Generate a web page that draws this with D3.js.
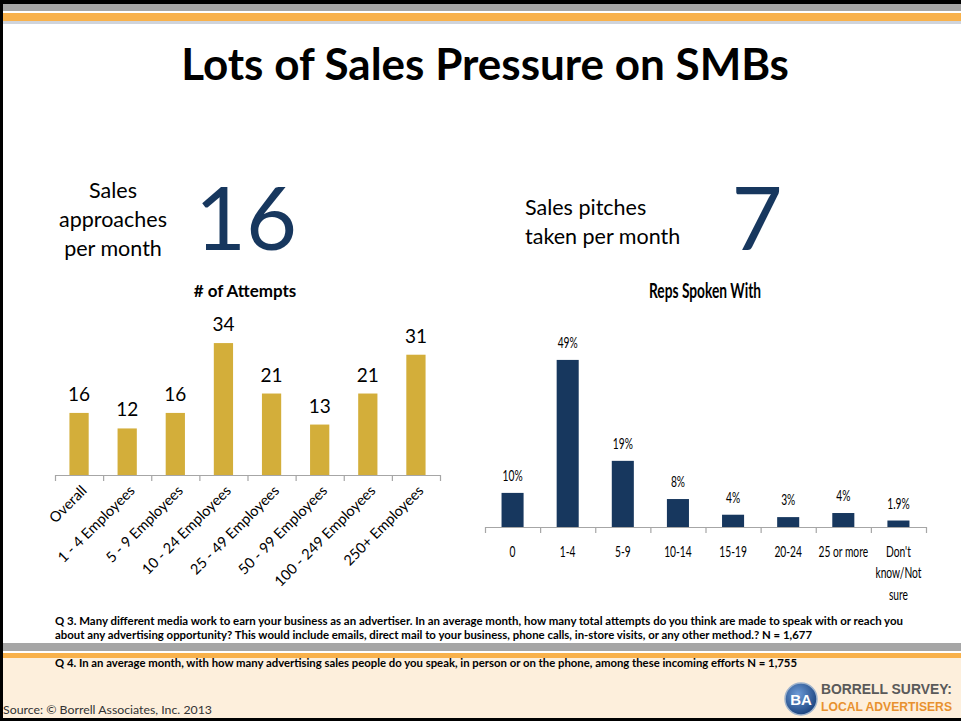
<!DOCTYPE html>
<html><head><meta charset="utf-8">
<script src="https://cdn.jsdelivr.net/npm/d3@7"></script>
<style>
html,body{margin:0;padding:0;background:#fff;}
svg{display:block;}
</style></head>
<body>
<script>
// ---------- DATA ----------
const attemptCategories = ["Overall","1 - 4 Employees","5 - 9 Employees","10 - 24 Employees","25 - 49 Employees","50 - 99 Employees","100 - 249 Employees","250+ Employees"];
const attemptValues = [16, 12, 16, 34, 21, 13, 21, 31];

const repsCategories = ["0","1-4","5-9","10-14","15-19","20-24","25 or more","Don't know/Not sure"];
const repsValues = [10, 49, 19.4, 8.2, 3.6, 2.9, 4.1, 1.9];
const repsLabels = ["10%","49%","19%","8%","4%","3%","4%","1.9%"];

const mainTitle = "Lots of Sales Pressure on SMBs";
const leftIntro = ["Sales","approaches","per month"];
const leftBig = "16";
const rightIntro = ["Sales pitches","taken per month"];
const rightBig = "7";
const leftChartTitle = "# of Attempts";
const rightChartTitle = "Reps Spoken With";
const footQ3 = ["Q 3. Many different media work to earn your business as an advertiser.  In an average month, how many total attempts do you think are made to speak with or reach you",
"about any advertising opportunity?  This would include emails, direct mail to your business, phone calls, in-store visits, or any other method.? N = 1,677"];
const footQ4 = "Q 4. In an average month, with how many advertising sales people do you speak, in person or on the phone, among these incoming efforts  N = 1,755";
const sourceText = "Source: \u00A9 Borrell Associates, Inc. 2013";

// ---------- DRAW ----------
const W = 961, H = 721;
const svg = d3.select("body").append("svg").attr("width", W).attr("height", H);
const font = "Lato, 'Open Sans', sans-serif";
const gold = "#d3ae3a", navy = "#17375e";
const squeeze = 0.66;

svg.append("rect").attr("width", W).attr("height", H).attr("fill", "#fff");

// top decoration
svg.append("rect").attr("x",0).attr("y",4).attr("width",W).attr("height",7).attr("fill","#a6a6a6");
svg.append("rect").attr("x",0).attr("y",13).attr("width",W).attr("height",8).attr("fill","#f8b14b");
svg.append("rect").attr("x",0).attr("y",21).attr("width",W).attr("height",3).attr("fill","#cfd4dc");

// footer decoration
svg.append("rect").attr("x",0).attr("y",643).attr("width",W).attr("height",8).attr("fill","#a6a6a6");
svg.append("rect").attr("x",0).attr("y",653).attr("width",W).attr("height",5).attr("fill","#f8b14b");
svg.append("rect").attr("x",0).attr("y",658).attr("width",W).attr("height",60).attr("fill","#fdefdc");

// borders
svg.append("rect").attr("x",0).attr("y",0).attr("width",W).attr("height",4).attr("fill","#000");
svg.append("rect").attr("x",0).attr("y",0).attr("width",3).attr("height",H).attr("fill","#000");
svg.append("rect").attr("x",0).attr("y",718).attr("width",W).attr("height",3).attr("fill","#000");

// title
svg.append("text").attr("x",485).attr("y",80).attr("text-anchor","middle")
  .attr("font-family",font).attr("font-weight","bold").attr("font-size",44).attr("fill","#000")
  .text(mainTitle);

// intro texts
svg.append("g").selectAll("text").data(leftIntro).join("text")
  .attr("x",113).attr("y",(d,i)=>198+i*29).attr("text-anchor","middle")
  .attr("font-family",font).attr("font-size",21.5).attr("fill","#000").text(d=>d);
svg.append("text").attr("x",246).attr("y",250).attr("text-anchor","middle")
  .attr("font-family",font).attr("font-size",88).attr("fill",navy).text(leftBig);
svg.append("g").selectAll("text").data(rightIntro).join("text")
  .attr("x",525).attr("y",(d,i)=>215+i*29)
  .attr("font-family",font).attr("font-size",21.5).attr("fill","#000").text(d=>d);
svg.append("text").attr("x",757).attr("y",250).attr("text-anchor","middle")
  .attr("font-family",font).attr("font-size",88).attr("fill",navy).text(rightBig);

// ---------- LEFT CHART ----------
const x1 = d3.scaleBand().domain(attemptCategories).range([55,440]).paddingInner(0.6).paddingOuter(0.3);
const y1 = d3.scaleLinear().domain([0,35]).range([475, 475-35*3.88]);
const g1 = svg.append("g");
g1.append("text").attr("x",245).attr("y",297).attr("text-anchor","middle")
  .attr("font-family",font).attr("font-weight","bold").attr("font-size",17).text(leftChartTitle);
g1.selectAll("rect.bar").data(attemptValues).join("rect").attr("class","bar")
  .attr("x",(d,i)=>x1(attemptCategories[i])).attr("width",x1.bandwidth())
  .attr("y",d=>y1(d)).attr("height",d=>y1(0)-y1(d)).attr("fill",gold);
g1.selectAll("text.val").data(attemptValues).join("text").attr("class","val")
  .attr("x",(d,i)=>x1(attemptCategories[i])+x1.bandwidth()/2).attr("y",d=>y1(d)-12)
  .attr("text-anchor","middle").attr("font-family",font).attr("font-size",19).attr("fill","#000")
  .text(d=>d);
// axis
const ax1 = d3.axisBottom(d3.scaleLinear().domain([0,attemptCategories.length]).range([55,440]))
  .ticks(attemptCategories.length).tickSize(6).tickFormat("");
const axg1 = g1.append("g").attr("transform",`translate(0,${y1(0)})`).call(ax1);
axg1.selectAll("path,line").attr("stroke","#a6a6a6").attr("stroke-width",1.2);
axg1.select(".domain").attr("d","M55,0.5H440");
g1.selectAll("text.cat").data(attemptCategories).join("text").attr("class","cat")
  .attr("transform",d=>`translate(${x1(d)+x1.bandwidth()/2+5},${y1(0)+13}) rotate(-45)`)
  .attr("text-anchor","end").attr("dy","0.35em")
  .attr("font-family",font).attr("font-size",14.5).attr("fill","#000").text(d=>d);

// ---------- RIGHT CHART ----------
const x2 = d3.scaleBand().domain(repsCategories).range([485,926]).paddingInner(0.6).paddingOuter(0.3);
const y2 = d3.scaleLinear().domain([0,50]).range([527, 527-50*3.41]);
const g2 = svg.append("g");
g2.append("text").attr("x",649).attr("y",298)
  .attr("font-family",font).attr("font-weight","bold").attr("font-size",20)
  .attr("textLength",112).attr("lengthAdjust","spacingAndGlyphs").text(rightChartTitle);
g2.selectAll("rect.bar").data(repsValues).join("rect").attr("class","bar")
  .attr("x",(d,i)=>x2(repsCategories[i])).attr("width",x2.bandwidth())
  .attr("y",d=>y2(d)).attr("height",d=>y2(0)-y2(d)).attr("fill",navy);
g2.selectAll("text.val").data(repsValues).join("text").attr("class","val")
  .attr("transform",(d,i)=>`translate(${x2(repsCategories[i])+x2.bandwidth()/2},${y2(d)-12}) scale(${squeeze},1)`)
  .attr("text-anchor","middle").attr("font-family",font).attr("font-size",15.5).attr("fill","#000")
  .text((d,i)=>repsLabels[i]);
const ax2 = d3.axisBottom(d3.scaleLinear().domain([0,repsCategories.length]).range([485,926]))
  .ticks(repsCategories.length).tickSize(6).tickFormat("");
const axg2 = g2.append("g").attr("transform",`translate(0,${y2(0)})`).call(ax2);
axg2.selectAll("path,line").attr("stroke","#a6a6a6").attr("stroke-width",1.2);
axg2.select(".domain").attr("d","M485,0.5H926");
const wrapLines = d => d === "Don't know/Not sure" ? ["Don't","know/Not","sure"] : [d];
const catG = g2.selectAll("g.cat").data(repsCategories).join("g").attr("class","cat")
  .attr("transform",d=>`translate(${x2(d)+x2.bandwidth()/2},${y2(0)+30}) scale(${squeeze},1)`);
catG.selectAll("text").data(d=>wrapLines(d)).join("text")
  .attr("y",(d,i)=>i*21.5).attr("text-anchor","middle")
  .attr("font-family",font).attr("font-size",15.5).attr("fill","#000").text(d=>d);

// ---------- FOOTNOTES ----------
const fq = svg.append("g").attr("font-family",font).attr("font-weight","bold").attr("font-size",11.5).attr("fill","#000");
fq.selectAll("text").data(footQ3).join("text")
  .attr("x",55).attr("y",(d,i)=>625+i*13.5)
  .attr("textLength",(d,i)=>i===0?848:757).attr("lengthAdjust","spacingAndGlyphs").text(d=>d);
svg.append("text").attr("x",55).attr("y",667).attr("font-family",font).attr("font-weight","bold")
  .attr("font-size",11.5).attr("textLength",742).attr("lengthAdjust","spacingAndGlyphs").text(footQ4);
svg.append("text").attr("x",3).attr("y",714).attr("font-family",font).attr("font-size",12)
  .attr("textLength",209).attr("lengthAdjust","spacingAndGlyphs")
  .attr("fill","#333").text(sourceText);

// ---------- LOGO ----------
const logo = svg.append("g");
const grad = svg.append("defs").append("radialGradient").attr("id","lg").attr("cx","40%").attr("cy","35%").attr("r","70%");
grad.append("stop").attr("offset","0%").attr("stop-color","#6c9ad6");
grad.append("stop").attr("offset","100%").attr("stop-color","#173f7a");
logo.append("circle").attr("cx",801).attr("cy",699).attr("r",16).attr("fill","url(#lg)").attr("stroke","#9fb3cc").attr("stroke-width",1.5);
logo.append("text").attr("x",801).attr("y",705).attr("text-anchor","middle").attr("font-family","'Liberation Sans', sans-serif")
  .attr("font-weight","bold").attr("font-size",15).attr("fill","#fff").text("BA");
logo.append("text").attr("x",821).attr("y",694).attr("font-family","'Liberation Sans', sans-serif").attr("font-weight","bold")
  .attr("font-size",14).attr("fill","#5a5a5a").attr("textLength",131).attr("lengthAdjust","spacingAndGlyphs").text("BORRELL SURVEY:");
logo.append("text").attr("x",821).attr("y",711).attr("font-family","'Liberation Sans', sans-serif").attr("font-weight","bold")
  .attr("font-size",13).attr("fill","#e8912e").attr("textLength",131).attr("lengthAdjust","spacingAndGlyphs").text("LOCAL ADVERTISERS");
</script>
</body></html>
